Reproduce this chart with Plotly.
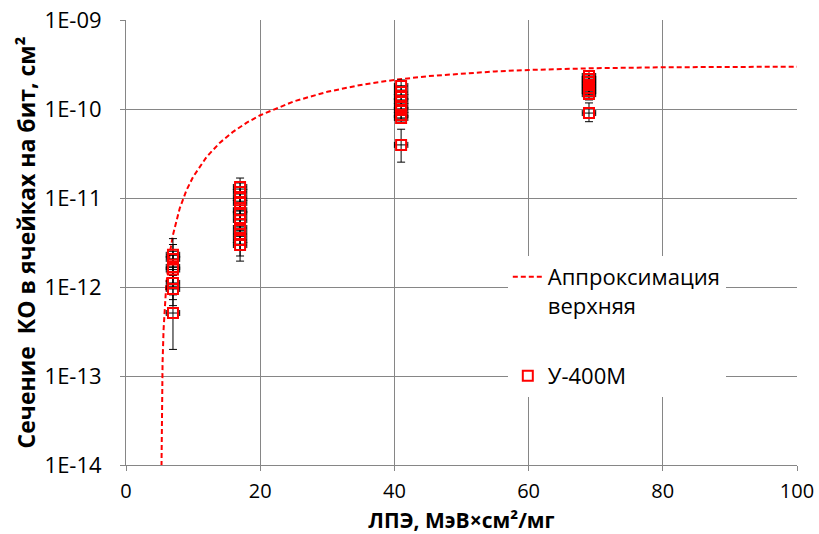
import plotly.graph_objects as go

# Upper Weibull approximation (LET, cross-section per bit)
fit_let = [5.28, 5.3, 5.35, 5.45, 5.6, 5.8, 6.0, 6.5, 7, 8, 9, 10, 12, 14, 16, 18,
           20, 25, 30, 35, 40, 45, 50, 55, 60, 70, 80, 90, 100]
fit_sigma = [7.9e-15, 1.71e-14, 4.9e-14, 1.42e-13, 3.33e-13, 6.6e-13, 1.06e-12,
             2.31e-12, 3.85e-12, 7.63e-12, 1.215e-11, 1.728e-11, 2.89e-11, 4.19e-11,
             5.58e-11, 7.03e-11, 8.51e-11, 1.217e-10, 1.561e-10, 1.865e-10,
             2.125e-10, 2.339e-10, 2.510e-10, 2.644e-10, 2.745e-10, 2.876e-10,
             2.943e-10, 2.975e-10, 2.990e-10]

# Measured points, U-400M accelerator
meas_let = [7, 7, 7, 7, 7, 7, 7,
            17, 17, 17, 17, 17, 17, 17, 17, 17, 17, 17,
            41, 41, 41, 41, 41, 41, 41, 41, 41,
            69, 69, 69, 69, 69, 69, 69, 69]
meas_sigma = [2.3e-12, 2.07e-12, 1.68e-12, 1.57e-12, 1.11e-12, 0.95e-12, 5.1e-13,
              1.33e-11, 1.17e-11, 1.0e-11, 8.8e-12, 7.3e-12, 6.6e-12, 5.66e-12,
              4.6e-12, 3.94e-12, 3.38e-12, 2.96e-12,
              1.81e-10, 1.55e-10, 1.36e-10, 1.23e-10, 1.08e-10, 9.75e-11, 8.57e-11,
              7.93e-11, 3.95e-11,
              2.35e-10, 2.17e-10, 2.01e-10, 1.86e-10, 1.72e-10, 1.59e-10, 1.47e-10,
              9.0e-11]
# relative uncertainties, percent
err_up_pct = [52, 45, 50, 45, 50, 55, 60,
              26, 26, 26, 26, 26, 26, 26, 26, 26, 26, 26,
              17, 17, 17, 17, 17, 17, 17, 17, 50,
              14, 14, 14, 14, 14, 14, 14, 30]
err_down_pct = [35, 35, 35, 35, 35, 35, 61,
                34, 34, 34, 34, 34, 34, 34, 34, 34, 34, 34,
                10, 10, 10, 10, 10, 10, 10, 10, 36,
                14, 14, 14, 14, 14, 14, 14, 20]
let_err = [1.0] * len(meas_let)

y_tickvals = [1e-14, 1e-13, 1e-12, 1e-11, 1e-10, 1e-9]
y_ticktext = ["1E-14", "1E-13", "1E-12", "1E-11", "1E-10", "1E-09"]
x_tickvals = [0, 20, 40, 60, 80, 100]

err_up = [s * p / 100 for s, p in zip(meas_sigma, err_up_pct)]
err_down = [s * p / 100 for s, p in zip(meas_sigma, err_down_pct)]

FONT = "Open Sans"
GRID = "#868686"

fig = go.Figure()

fig.add_trace(go.Scatter(
    x=fit_let, y=fit_sigma, mode="lines",
    name="Аппроксимация<br>верхняя",
    line=dict(color="#FF0000", width=2, dash="5px,3px"),
    legendgroup="fit",
))

fig.add_trace(go.Scatter(
    x=meas_let, y=meas_sigma, mode="markers",
    name="У-400М",
    marker=dict(symbol="square-open", size=10, color="#FF0000",
                line=dict(color="#FF0000", width=2)),
    error_y=dict(type="data", symmetric=False, array=err_up, arrayminus=err_down,
                 color="black", thickness=1, width=4),
    error_x=dict(type="data", array=let_err, color="black", thickness=1, width=3),
    legendgroup="meas",
))

fig.update_layout(
    width=819, height=534,
    margin=dict(l=126, r=22, t=20, b=69, autoexpand=False),
    paper_bgcolor="white", plot_bgcolor="white",
    font=dict(family=FONT, size=22, color="black"),
    showlegend=True,
    legend=dict(
        x=0.569, y=0.47, xanchor="left", yanchor="top",
        bgcolor="white", borderwidth=0,
        font=dict(family=FONT, size=22, color="black"),
        valign="top", traceorder="grouped", tracegroupgap=39,
    ),
)

fig.update_xaxes(
    range=[0, 100], tickvals=x_tickvals, automargin=False,
    showgrid=True, gridcolor=GRID, gridwidth=1,
    showline=True, linecolor=GRID, linewidth=1,
    ticks="outside", ticklen=5, tickcolor=GRID,
    ticklabelstandoff=3,
    zeroline=False,
    tickfont=dict(family=FONT, size=20),
    title=dict(text="ЛПЭ, МэВ×см²/мг", standoff=14,
               font=dict(family=FONT, size=21, weight="bold")),
)

fig.update_yaxes(
    type="log", range=[-14, -9], automargin=False,
    tickvals=y_tickvals, ticktext=y_ticktext,
    showgrid=True, gridcolor=GRID, gridwidth=1,
    showline=True, linecolor=GRID, linewidth=1,
    ticks="outside", ticklen=5, tickcolor=GRID,
    ticklabelstandoff=14,
    zeroline=False,
    tickfont=dict(family=FONT, size=22),
    title=dict(text="Сечение  КО в ячейках на бит, см²", standoff=2,
               font=dict(family=FONT, size=23, weight="bold")),
)

fig.write_html("out.html")
